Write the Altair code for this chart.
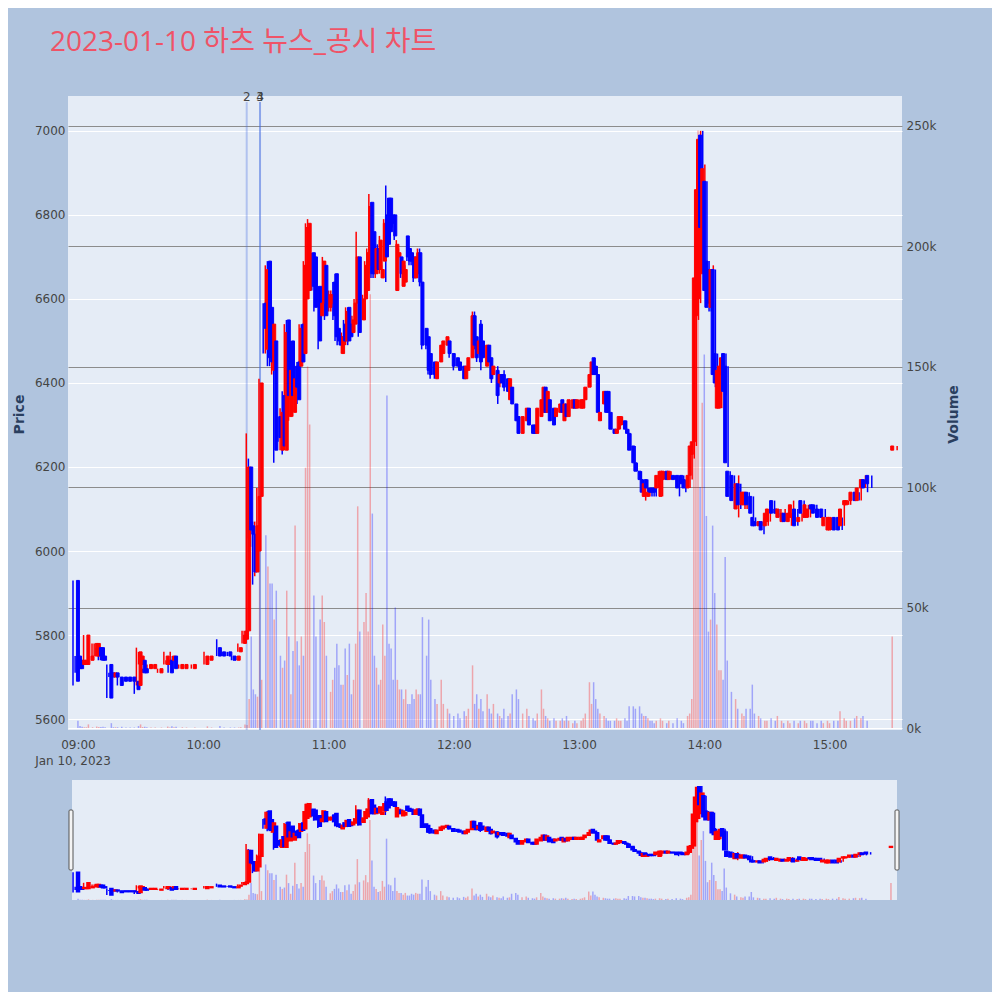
import altair as alt
import pandas as pd
import numpy as np

TITLE = "2023-01-10 하츠 뉴스_공시 차트"
DATE_LABEL = "Jan 10, 2023"

# minutes after 09:00 for each 1-minute candle
minute = [
    0, 1, 2, 3, 4, 5, 7, 9, 10, 11, 12, 13, 16, 17, 18, 19, 21, 23, 25, 27, 29, 30, 31, 32, 33, 35, 37, 40, 43, 44, 45, 46, 47, 50, 52, 56, 62, 64, 68, 70, 73, 75, 77, 78, 80, 81,
    82, 83, 84, 85, 86, 87, 88, 90, 91, 92, 93, 94, 95, 97, 98, 99, 100, 101, 102, 103, 104, 105, 106, 107, 108, 109, 110, 111,
    113, 114, 116, 117, 118, 119, 121, 122, 123, 124, 125, 126, 127, 128, 129, 130, 131, 132, 133, 134, 135, 137, 138, 139, 140, 141, 142, 143, 144, 145, 146, 147, 148, 149, 150, 151, 152,
    153, 154, 155, 156, 157, 158, 159, 160, 161, 162, 163, 164, 165, 167, 168, 169, 171, 172, 174, 175, 177, 178, 180, 182, 183, 185, 186, 187, 189, 190, 191, 192, 193, 194, 196, 197, 198, 199,
    201, 202, 203, 204, 206, 207, 208, 210, 211, 213, 215, 216, 218, 219, 220, 222, 223, 224, 225, 226, 228, 229, 231, 232, 233, 234, 235, 237, 238, 239, 241, 242, 243, 245, 246, 247, 248, 249, 250,
    252, 253, 254, 255, 257, 258, 259, 260, 262, 263, 264, 266, 267, 269, 270, 271, 272, 273, 274, 275, 276, 277, 279, 280, 282, 283, 285, 287, 289, 290, 292, 293, 294,
    295, 296, 297, 298, 299, 300, 301, 302, 303, 304, 305, 306, 307, 308, 309, 310, 311, 313, 315, 316, 318, 319, 320, 322, 323, 324, 326, 327, 329, 330, 332, 334,
    335, 337, 338, 340, 341, 343, 345, 346, 348, 349, 351, 352, 354, 356, 357, 359, 360, 362, 364, 365, 367, 368, 370, 372, 373, 375, 376, 378, 390,
]

open_ = [
    5930, 5750, 5740, 5730, 5730, 5730, 5740, 5750, 5750, 5770, 5770, 5750, 5730, 5710, 5700, 5710, 5700, 5700, 5700, 5700, 5690, 5680, 5730, 5740, 5720, 5720, 5720, 5710, 5730, 5730, 5740, 5740, 5750, 5720, 5720, 5720, 5730, 5740, 5770, 5760, 5760, 5750, 5740, 5760, 5780, 5790,
    5810, 6200, 6060, 6040, 5950, 6000, 6130, 6590, 6480, 6690, 6580, 6430, 6500, 6320, 6240, 6370, 6240, 6550, 6320, 6500, 6330, 6440, 6450, 6440, 6540, 6470, 6600, 6620,
    6710, 6700, 6630, 6560, 6590, 6680, 6580, 6590, 6640, 6660, 6530, 6510, 6470, 6540, 6500, 6580, 6540, 6520, 6540, 6590, 6700, 6550, 6600, 6620, 6680, 6830, 6760, 6660, 6720, 6670, 6650, 6690, 6800, 6840, 6840, 6800, 6800,
    6620, 6700, 6700, 6630, 6640, 6750, 6720, 6710, 6700, 6650, 6660, 6710, 6640, 6530, 6510, 6470, 6450, 6410, 6450, 6470, 6490, 6500, 6470, 6460, 6450, 6440, 6410, 6430, 6460, 6560, 6510, 6470, 6540, 6500, 6440, 6490, 6460, 6420,
    6430, 6400, 6420, 6420, 6410, 6360, 6390, 6350, 6320, 6280, 6310, 6340, 6300, 6300, 6280, 6320, 6330, 6390, 6330, 6360, 6340, 6320, 6330, 6360, 6310, 6350, 6320, 6340, 6360, 6340, 6340, 6340, 6360, 6390, 6420, 6460, 6440, 6420, 6310,
    6350, 6380, 6380, 6330, 6290, 6280, 6290, 6300, 6310, 6290, 6280, 6250, 6210, 6190, 6170, 6130, 6170, 6130, 6150, 6150, 6150, 6150, 6130, 6170, 6190, 6170, 6180, 6180, 6180, 6170, 6150, 6180, 6230,
    6260, 6560, 6600, 6990, 6660, 6880, 6690, 6670, 6580, 6670, 6470, 6340, 6340, 6420, 6470, 6440, 6190, 6180, 6100, 6160, 6110, 6110, 6140, 6130, 6080, 6070, 6060, 6070, 6060, 6070, 6120, 6100,
    6080, 6070, 6090, 6070, 6080, 6100, 6070, 6120, 6080, 6080, 6110, 6110, 6100, 6100, 6060, 6050, 6050, 6080, 6080, 6060, 6110, 6110, 6120, 6140, 6120, 6150, 6170, 6180, 6240,
]

high = [
    5930, 5750, 5740, 5740, 5740, 5800, 5750, 5780, 5780, 5770, 5770, 5750, 5730, 5710, 5710, 5710, 5700, 5700, 5700, 5700, 5690, 5770, 5760, 5740, 5720, 5730, 5730, 5720, 5760, 5740, 5740, 5760, 5750, 5730, 5730, 5730, 5760, 5750, 5790, 5760, 5760, 5750, 5750, 5780, 5810, 5810,
    6280, 6220, 6200, 6070, 6070, 6150, 6410, 6590, 6680, 6690, 6580, 6550, 6500, 6320, 6340, 6380, 6540, 6550, 6440, 6500, 6420, 6440, 6450, 6540, 6540, 6690, 6780, 6790,
    6710, 6700, 6630, 6590, 6700, 6680, 6620, 6620, 6640, 6660, 6540, 6510, 6520, 6550, 6580, 6580, 6540, 6560, 6600, 6760, 6700, 6610, 6690, 6720, 6850, 6830, 6760, 6730, 6730, 6750, 6680, 6790, 6870, 6840, 6840, 6800, 6800,
    6740, 6720, 6700, 6690, 6680, 6750, 6720, 6710, 6700, 6700, 6720, 6720, 6640, 6530, 6510, 6470, 6450, 6450, 6490, 6500, 6510, 6500, 6470, 6460, 6450, 6440, 6440, 6460, 6570, 6570, 6510, 6500, 6550, 6500, 6490, 6490, 6460, 6440,
    6440, 6420, 6420, 6430, 6410, 6410, 6390, 6350, 6320, 6320, 6340, 6340, 6300, 6300, 6340, 6360, 6390, 6390, 6380, 6360, 6340, 6340, 6350, 6360, 6350, 6350, 6360, 6360, 6360, 6360, 6360, 6360, 6390, 6420, 6450, 6460, 6440, 6420, 6330,
    6380, 6380, 6380, 6330, 6290, 6290, 6320, 6320, 6310, 6290, 6280, 6250, 6210, 6190, 6170, 6170, 6170, 6150, 6150, 6150, 6150, 6190, 6190, 6190, 6190, 6190, 6180, 6180, 6180, 6170, 6180, 6250, 6270,
    6660, 6870, 7000, 7000, 6920, 6880, 6690, 6670, 6680, 6670, 6470, 6440, 6440, 6470, 6470, 6440, 6190, 6180, 6180, 6160, 6140, 6140, 6140, 6130, 6080, 6070, 6070, 6080, 6090, 6100, 6120, 6100,
    6100, 6100, 6090, 6090, 6120, 6100, 6090, 6120, 6110, 6100, 6110, 6110, 6100, 6100, 6080, 6080, 6080, 6080, 6080, 6110, 6120, 6120, 6140, 6140, 6150, 6180, 6170, 6180, 6250,
]

low = [
    5680, 5710, 5710, 5730, 5730, 5730, 5740, 5740, 5750, 5750, 5740, 5740, 5650, 5700, 5700, 5700, 5680, 5690, 5690, 5690, 5660, 5680, 5730, 5710, 5710, 5720, 5720, 5710, 5730, 5730, 5710, 5740, 5720, 5720, 5720, 5720, 5730, 5740, 5750, 5750, 5750, 5740, 5740, 5760, 5780, 5790,
    5800, 6030, 6010, 5920, 5940, 5990, 6120, 6470, 6470, 6440, 6440, 6420, 6210, 6260, 6240, 6230, 6240, 6350, 6310, 6350, 6320, 6380, 6350, 6440, 6440, 6470, 6590, 6610,
    6620, 6570, 6480, 6560, 6580, 6550, 6570, 6570, 6550, 6500, 6490, 6490, 6470, 6490, 6490, 6490, 6500, 6520, 6540, 6580, 6510, 6550, 6600, 6620, 6660, 6650, 6650, 6650, 6660, 6660, 6650, 6690, 6640, 6720, 6750, 6770, 6740,
    6620, 6700, 6650, 6630, 6640, 6690, 6680, 6680, 6640, 6650, 6650, 6630, 6480, 6480, 6420, 6410, 6410, 6410, 6450, 6470, 6490, 6460, 6430, 6440, 6430, 6410, 6410, 6430, 6460, 6480, 6450, 6470, 6430, 6460, 6440, 6450, 6400, 6420,
    6350, 6390, 6400, 6380, 6380, 6360, 6350, 6310, 6280, 6280, 6310, 6300, 6280, 6280, 6280, 6320, 6330, 6330, 6330, 6310, 6300, 6320, 6330, 6330, 6310, 6320, 6320, 6340, 6340, 6340, 6340, 6340, 6360, 6390, 6420, 6420, 6420, 6330, 6310,
    6350, 6330, 6330, 6290, 6280, 6280, 6290, 6300, 6290, 6280, 6240, 6210, 6190, 6170, 6130, 6120, 6140, 6130, 6130, 6130, 6130, 6150, 6130, 6170, 6170, 6170, 6170, 6130, 6160, 6140, 6150, 6170, 6220,
    6250, 6550, 6590, 6760, 6660, 6610, 6570, 6570, 6580, 6390, 6380, 6340, 6340, 6410, 6370, 6200, 6120, 6100, 6080, 6100, 6100, 6100, 6110, 6080, 6060, 6060, 6060, 6040, 6060, 6070, 6090, 6080,
    6080, 6070, 6070, 6060, 6080, 6060, 6070, 6080, 6080, 6080, 6100, 6080, 6080, 6080, 6050, 6050, 6050, 6050, 6050, 6060, 6110, 6110, 6120, 6120, 6120, 6150, 6140, 6150, 6240,
]

close = [
    5690, 5720, 5720, 5740, 5740, 5800, 5750, 5780, 5780, 5750, 5740, 5740, 5650, 5700, 5710, 5700, 5680, 5690, 5690, 5690, 5670, 5760, 5750, 5710, 5710, 5730, 5730, 5720, 5750, 5740, 5710, 5750, 5720, 5730, 5730, 5730, 5750, 5750, 5750, 5750, 5750, 5740, 5750, 5770, 5800, 5810,
    6200, 6050, 6040, 5950, 6060, 6130, 6400, 6530, 6670, 6460, 6450, 6540, 6240, 6270, 6330, 6250, 6520, 6370, 6430, 6370, 6410, 6390, 6360, 6530, 6450, 6680, 6770, 6780,
    6630, 6580, 6500, 6590, 6690, 6560, 6610, 6610, 6560, 6510, 6500, 6490, 6510, 6500, 6570, 6500, 6510, 6550, 6590, 6700, 6520, 6600, 6680, 6710, 6820, 6660, 6660, 6720, 6670, 6740, 6670, 6780, 6700, 6730, 6760, 6780, 6750,
    6730, 6710, 6660, 6690, 6670, 6700, 6690, 6690, 6650, 6700, 6710, 6640, 6490, 6490, 6430, 6420, 6420, 6450, 6490, 6500, 6510, 6470, 6440, 6440, 6430, 6410, 6440, 6460, 6560, 6490, 6460, 6500, 6450, 6460, 6490, 6450, 6410, 6440,
    6370, 6420, 6400, 6390, 6380, 6410, 6350, 6310, 6280, 6320, 6340, 6300, 6280, 6280, 6340, 6360, 6390, 6330, 6380, 6310, 6300, 6340, 6350, 6330, 6350, 6320, 6360, 6360, 6340, 6360, 6360, 6360, 6390, 6420, 6450, 6420, 6420, 6330, 6330,
    6380, 6330, 6330, 6290, 6280, 6290, 6320, 6320, 6290, 6280, 6240, 6210, 6190, 6170, 6140, 6160, 6150, 6140, 6140, 6140, 6140, 6180, 6190, 6190, 6170, 6190, 6170, 6150, 6160, 6150, 6180, 6250, 6260,
    6650, 6860, 6980, 6770, 6910, 6620, 6580, 6590, 6670, 6420, 6400, 6430, 6440, 6460, 6380, 6210, 6130, 6120, 6160, 6110, 6140, 6140, 6110, 6090, 6060, 6060, 6070, 6050, 6090, 6100, 6090, 6090,
    6100, 6090, 6070, 6090, 6110, 6060, 6080, 6090, 6110, 6100, 6100, 6090, 6080, 6080, 6080, 6080, 6080, 6050, 6050, 6100, 6120, 6120, 6140, 6120, 6150, 6170, 6150, 6160, 6250,
]

volume = [
    3000, 800, 500, 300, 300, 1500, 300, 600, 400, 400, 500, 300, 2000, 300, 300, 300, 500, 200, 200, 200, 800, 1500, 400, 500, 300, 200, 200, 200, 600, 200, 700, 300, 500, 300, 200, 200, 700, 200, 800, 200, 200, 200, 200, 300, 1500, 1200,
    12000, 38000, 16000, 14000, 13000, 95000, 20000, 80000, 67000, 60000, 60000, 45000, 57000, 30000, 25000, 28000, 57000, 38000, 14000, 32000, 84000, 36000, 26000, 38000, 30000, 108000, 150000, 126000,
    55000, 38000, 45000, 55000, 44000, 30000, 15000, 20000, 25000, 35000, 26000, 18000, 18000, 33000, 22000, 35000, 14000, 20000, 35000, 92000, 40000, 44000, 56000, 40000, 180000, 89000, 30000, 25000, 18000, 20000, 43000, 30000, 138000, 35000, 33000, 20000, 50000,
    20000, 16000, 16000, 12000, 16000, 10000, 10000, 14000, 12000, 16000, 14000, 14000, 46000, 30000, 45000, 20000, 12000, 10000, 20000, 10000, 8000, 6000, 5000, 6000, 4000, 7000, 5000, 8000, 26000, 10000, 14000, 8000, 12000, 7000, 14000, 8000, 6000, 10000,
    6000, 5000, 4000, 8000, 5000, 6000, 14000, 16000, 12000, 6000, 8000, 5000, 4000, 3000, 6000, 16000, 8000, 5000, 4000, 3000, 4000, 3000, 3000, 4000, 3000, 5000, 3000, 2000, 3000, 2000, 3000, 4000, 6000, 19000, 10000, 19000, 12000, 8000, 6000,
    5000, 4000, 3000, 3000, 3000, 4000, 3000, 3000, 4000, 3000, 9000, 9000, 8000, 9000, 6000, 5000, 5000, 4000, 3000, 3000, 2000, 3000, 4000, 3000, 2000, 3000, 2000, 4000, 3000, 2000, 5000, 6000, 12000,
    128000, 186000, 248000, 100000, 135000, 155000, 88000, 40000, 45000, 84000, 56000, 43000, 24000, 24000, 20000, 71000, 28000, 15000, 12000, 8000, 6000, 5000, 8000, 8000, 18000, 6000, 5000, 4000, 3000, 3000, 4000, 3000,
    5000, 3000, 2000, 3000, 2000, 3000, 2000, 3000, 3000, 2000, 3000, 3000, 2000, 3000, 2000, 3000, 2000, 3000, 3000, 7000, 4000, 3000, 3000, 4000, 5000, 4000, 5000, 3000, 38000,
]

news_time = ["2023-01-10T10:22:12", "2023-01-10T10:28:30", "2023-01-10T10:28:30"]
news_label = ["2", "3", "4"]

price_ticks = [5600, 5800, 6000, 6200, 6400, 6600, 6800, 7000]
volume_ticks = [0, 50000, 100000, 150000, 200000, 250000]
hour_ticks = [9, 10, 11, 12, 13, 14, 15]

# ---------------------------------------------------------------- data frame
base_time = pd.Timestamp("2023-01-10 09:00:00")
df = pd.DataFrame({
    "m": minute, "open": open_, "high": high, "low": low, "close": close, "vol": volume,
})
df["t"] = [(base_time + pd.Timedelta(minutes=m)).strftime("%Y-%m-%dT%H:%M:%S") for m in df["m"]]
df["dir"] = np.where(df["close"] > df["open"], "up", "down")
df["blo"] = df[["open", "close"]].min(axis=1)
df["bhi"] = df[["open", "close"]].max(axis=1)

news_df = pd.DataFrame({"nt": news_time, "label": news_label})
title_df = pd.DataFrame({"label": [TITLE]})
date_df = pd.DataFrame({"label": [DATE_LABEL]})


def dt(h, m=0, s=0):
    return alt.DateTime(year=2023, month=1, date=10, hours=h, minutes=m, seconds=s)


TFONT = "Open Sans, Noto Sans CJK KR, sans-serif"
FONT = "DejaVu Sans, Verdana, sans-serif"
W, H = 834, 634
MAIN_X = [dt(8, 57, 38), dt(15, 32, 18)]
SL_X = [dt(8, 59, 30), dt(15, 30, 30)]
SL_X_RANGE = [4, 829]
SL_Y_RANGE = [804, 684]
PRICE_DOM = [5574, 7083]
VOL_DOM = [-830, 262300]
SL_PRICE_DOM = [5587, 7074]
SL_VOL_DOM = [0, 270000]

dir_scale = alt.Scale(domain=["up", "down"], range=["#FF0000", "#0000FF"])


def xmain(field, axis=None):
    return alt.X(field, type="temporal", scale=alt.Scale(domain=MAIN_X, nice=False), axis=axis)


def xslider(field):
    return alt.X(field, type="temporal", scale=alt.Scale(domain=SL_X, range=SL_X_RANGE, nice=False), axis=None)


x_axis = alt.Axis(values=[dt(h) for h in hour_ticks], format="%H:%M", grid=False, domain=False,
                  ticks=False, labelPadding=9, labelFontSize=12, labelColor="#444",
                  labelFlush=False, title=None)

vol_axis = alt.Axis(orient="right", values=volume_ticks, format="~s", grid=True,
                    gridColor={"condition": {"test": "datum.value === 0", "value": "#ffffff"}, "value": "#8c8c8c"},
                    gridWidth=1.2, domain=False, ticks=False, labelPadding=4, labelFontSize=12,
                    labelColor="#444", title="Volume", titleX=51, titleY=318, titleAngle=270,
                    titleAlign="center", titleBaseline="middle", titleFontSize=14,
                    titleFontWeight="bold", titleColor="#2a3f5f")

price_axis = alt.Axis(orient="left", values=price_ticks, format="d", grid=True, gridColor="#ffffff",
                      gridWidth=1, domain=False, ticks=False, labelPadding=3, labelFontSize=12,
                      labelColor="#444", title="Price", titleX=-49, titleY=318, titleAngle=270,
                      titleAlign="center", titleBaseline="middle", titleFontSize=14,
                      titleFontWeight="bold", titleColor="#2a3f5f")

color_enc = alt.Color("dir:N", scale=dir_scale, legend=None)
stroke_enc = alt.Stroke("dir:N", scale=dir_scale, legend=None)

base = alt.Chart(df)

vol_main = base.mark_bar(size=1.5, opacity=0.3).encode(
    x=xmain("t", x_axis),
    y=alt.Y("vol:Q", scale=alt.Scale(domain=VOL_DOM, nice=False), axis=vol_axis),
    color=color_enc,
)

news_rule = alt.Chart(news_df).mark_rule(color="#4169E1", strokeWidth=2, opacity=0.32).encode(
    x=xmain("nt"), y=alt.value(6), y2=alt.value(H),
)
news_text = alt.Chart(news_df).mark_text(fontSize=12, color="#444", align="center",
                                         baseline="alphabetic", font=FONT).encode(
    x=xmain("nt"), y=alt.value(5), text="label:N",
)

wick_main = base.mark_rule(strokeWidth=1.5).encode(
    x=xmain("t"),
    y=alt.Y("high:Q", scale=alt.Scale(domain=PRICE_DOM, nice=False, zero=False), axis=None),
    y2="low:Q",
    color=color_enc,
)
body_main = base.mark_bar(size=3, strokeWidth=1).encode(
    x=xmain("t"),
    y=alt.Y("blo:Q", scale=alt.Scale(domain=PRICE_DOM, nice=False, zero=False), axis=price_axis),
    y2="bhi:Q",
    color=color_enc,
    stroke=stroke_enc,
)

slider_bg = alt.Chart(title_df).mark_rect(color="#E5ECF6").encode(
    x=alt.value(SL_X_RANGE[0]), x2=alt.value(SL_X_RANGE[1]),
    y=alt.value(SL_Y_RANGE[1]), y2=alt.value(SL_Y_RANGE[0]),
)
vol_slider = base.mark_bar(size=1.5, opacity=0.3).encode(
    x=xslider("t"),
    y=alt.Y("vol:Q", scale=alt.Scale(domain=SL_VOL_DOM, range=SL_Y_RANGE, nice=False), axis=None),
    color=color_enc,
)
wick_slider = base.mark_rule(strokeWidth=1.5).encode(
    x=xslider("t"),
    y=alt.Y("high:Q", scale=alt.Scale(domain=SL_PRICE_DOM, range=SL_Y_RANGE, nice=False, zero=False), axis=None),
    y2="low:Q",
    color=color_enc,
)
body_slider = base.mark_bar(size=3, strokeWidth=1.5).encode(
    x=xslider("t"),
    y=alt.Y("blo:Q", scale=alt.Scale(domain=SL_PRICE_DOM, range=SL_Y_RANGE, nice=False, zero=False), axis=None),
    y2="bhi:Q",
    color=color_enc,
    stroke=stroke_enc,
)

handle_l = alt.Chart(title_df).mark_rect(fill="#f4f4f4", stroke="#555", strokeWidth=1, cornerRadius=1).encode(
    x=alt.value(1), x2=alt.value(5), y=alt.value(714), y2=alt.value(774),
)
handle_r = alt.Chart(title_df).mark_rect(fill="#f4f4f4", stroke="#555", strokeWidth=1, cornerRadius=1).encode(
    x=alt.value(827), x2=alt.value(831), y=alt.value(714), y2=alt.value(774),
)

title_text = alt.Chart(title_df).mark_text(align="left", baseline="alphabetic", fontSize=28,
                                           color="#EF5367", font=TFONT).encode(
    x=alt.value(-18), y=alt.value(-45), text="label:N",
)
date_text = alt.Chart(date_df).mark_text(align="center", baseline="alphabetic", fontSize=12,
                                         color="#444", font=FONT).encode(
    x=alt.value(5), y=alt.value(669), text="label:N",
)

chart = alt.layer(
    vol_main, news_rule, news_text, wick_main, body_main,
    slider_bg, vol_slider, wick_slider, body_slider, handle_l, handle_r,
    title_text, date_text,
).resolve_scale(
    x="independent", y="independent"
).properties(
    width=W, height=H,
    autosize=alt.AutoSizeParams(type="none"),
    padding={"left": 60, "top": 88, "right": 90, "bottom": 262},
    background="#B0C4DE",
).configure_view(
    fill="#E5ECF6", stroke=None
).configure_axis(
    labelFont=FONT, titleFont=FONT
)

chart.save("out.html", embed_options={"renderer": "svg", "actions": False})
